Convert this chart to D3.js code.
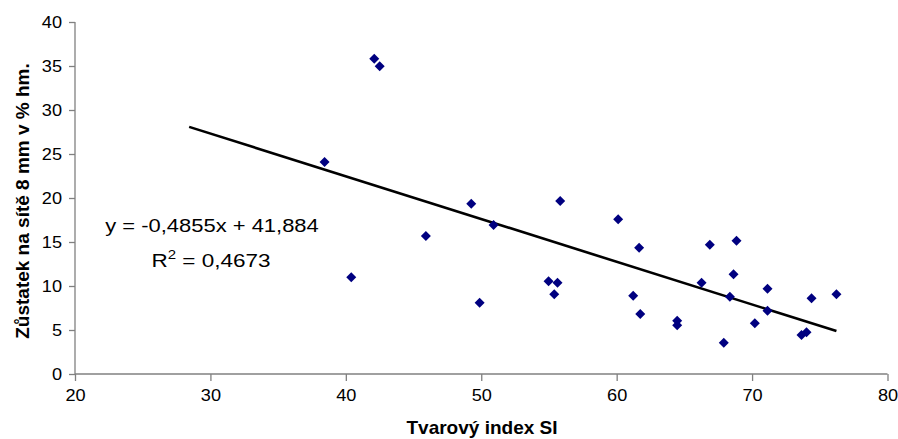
<!DOCTYPE html>
<html>
<head>
<meta charset="utf-8">
<script src="https://cdn.jsdelivr.net/npm/d3@7"></script>
<style>
  html, body { margin: 0; padding: 0; background: #fff; }
  svg { display: block; font-family: "Liberation Sans", Arial, sans-serif; }
</style>
</head>
<body>
<svg id="chart" width="898" height="439"></svg>
<script>
// Shape index SI vs. residue on the 8 mm sieve (% by mass)
const shapeIndex = [38.43, 40.40, 42.10, 42.50, 45.91, 49.26, 49.88, 50.91, 54.97, 55.39,
  55.63, 55.83, 60.11, 61.22, 61.66, 61.74, 64.47, 64.47, 66.27, 66.88,
  67.91, 68.36, 68.63, 68.85, 70.20, 71.14, 71.14, 73.65, 74.02, 74.39, 76.23];
const residue = [24.09, 10.99, 35.83, 34.97, 15.68, 19.35, 8.10, 16.93, 10.53, 9.05,
  10.38, 19.66, 17.58, 8.90, 14.36, 6.82, 6.06, 5.53, 10.38, 14.70,
  3.56, 8.79, 11.33, 15.15, 5.76, 9.69, 7.19, 4.43, 4.74, 8.60, 9.06];

const xTicks = [20, 30, 40, 50, 60, 70, 80];
const yTicks = [0, 5, 10, 15, 20, 25, 30, 35, 40];

// Linear trend: y = slope * x + intercept, extended 10 units backwards
const slope = -0.4855;
const intercept = 41.884;
const rSquared = 0.4673;
const backForecast = 10;

const xTitle = "Tvarový index SI";
const yTitle = "Zůstatek na sítě 8 mm v % hm.";

const svg = d3.select("#chart");

const x = d3.scaleLinear().domain([20, 80]).range([75, 887.5]);
const y = d3.scaleLinear().domain([0, 40]).range([374, 22]);

const axisColor = "#808080";
const tickFont = "16.5px";
const tickStretch = 1.1;

// Y axis
const gy = svg.append("g")
  .attr("transform", `translate(${x(20)},0)`)
  .call(d3.axisLeft(y).tickValues(yTicks).tickSize(6).tickPadding(7));
// X axis
const gx = svg.append("g")
  .attr("transform", `translate(0,${y(0)})`)
  .call(d3.axisBottom(x).tickValues(xTicks).tickSize(7).tickPadding(8));

[gx, gy].forEach(g => {
  g.select(".domain").attr("stroke", axisColor).attr("stroke-width", 1.3);
  g.selectAll(".tick line").attr("stroke", axisColor).attr("stroke-width", 1.3);
  g.selectAll(".tick text")
    .attr("fill", "#000")
    .style("font-size", tickFont)
    .style("font-family", "'Liberation Sans', Arial, sans-serif");
});
// x labels widen about their centre, y labels about their right edge
gx.selectAll(".tick text").attr("transform", `scale(${tickStretch},1)`);
gy.selectAll(".tick text").attr("transform", `translate(-13,0) scale(${tickStretch},1) translate(13,0)`);

// plain domain lines without the end caps
gx.select(".domain").attr("d", `M${x(20)},0H${x(80)}`);
gy.select(".domain").attr("d", `M0,${y(0)}V${y(40)}`);

// Trend line
const tx0 = d3.min(shapeIndex) - backForecast;
const tx1 = d3.max(shapeIndex);
svg.append("line")
  .attr("x1", x(tx0)).attr("y1", y(slope * tx0 + intercept))
  .attr("x2", x(tx1)).attr("y2", y(slope * tx1 + intercept))
  .attr("stroke", "#000").attr("stroke-width", 2.6);

// Data points as diamonds
const r = 5;
svg.append("g").selectAll("path")
  .data(shapeIndex.map((v, i) => [v, residue[i]]))
  .join("path")
  .attr("d", `M0,${-r}L${r},0L0,${r}L${-r},0Z`)
  .attr("transform", d => `translate(${x(d[0])},${y(d[1])})`)
  .attr("fill", "#000080");

// Equation labels
const fmt = v => String(v).replace(".", ",");
const eqText = `y = ${fmt(slope)}x + ${fmt(intercept)}`;
svg.append("text")
  .attr("transform", "translate(212,232) scale(1.22,1)")
  .attr("text-anchor", "middle")
  .style("font-size", "18px")
  .text(eqText);
const r2 = svg.append("text")
  .attr("transform", "translate(211,267) scale(1.25,1)")
  .attr("text-anchor", "middle")
  .style("font-size", "18px");
r2.append("tspan").text("R");
r2.append("tspan").attr("dy", -8).style("font-size", "12px").text("2");
r2.append("tspan").attr("dy", 8).text(` = ${fmt(rSquared)}`);

// Axis titles
svg.append("text")
  .attr("x", 482).attr("y", 434)
  .attr("text-anchor", "middle")
  .style("font-size", "19px").style("font-weight", "bold")
  .text(xTitle);
svg.append("text")
  .attr("transform", "translate(29,201) rotate(-90)")
  .attr("text-anchor", "middle")
  .style("font-size", "19px").style("font-weight", "bold")
  .text(yTitle);
</script>
</body>
</html>
